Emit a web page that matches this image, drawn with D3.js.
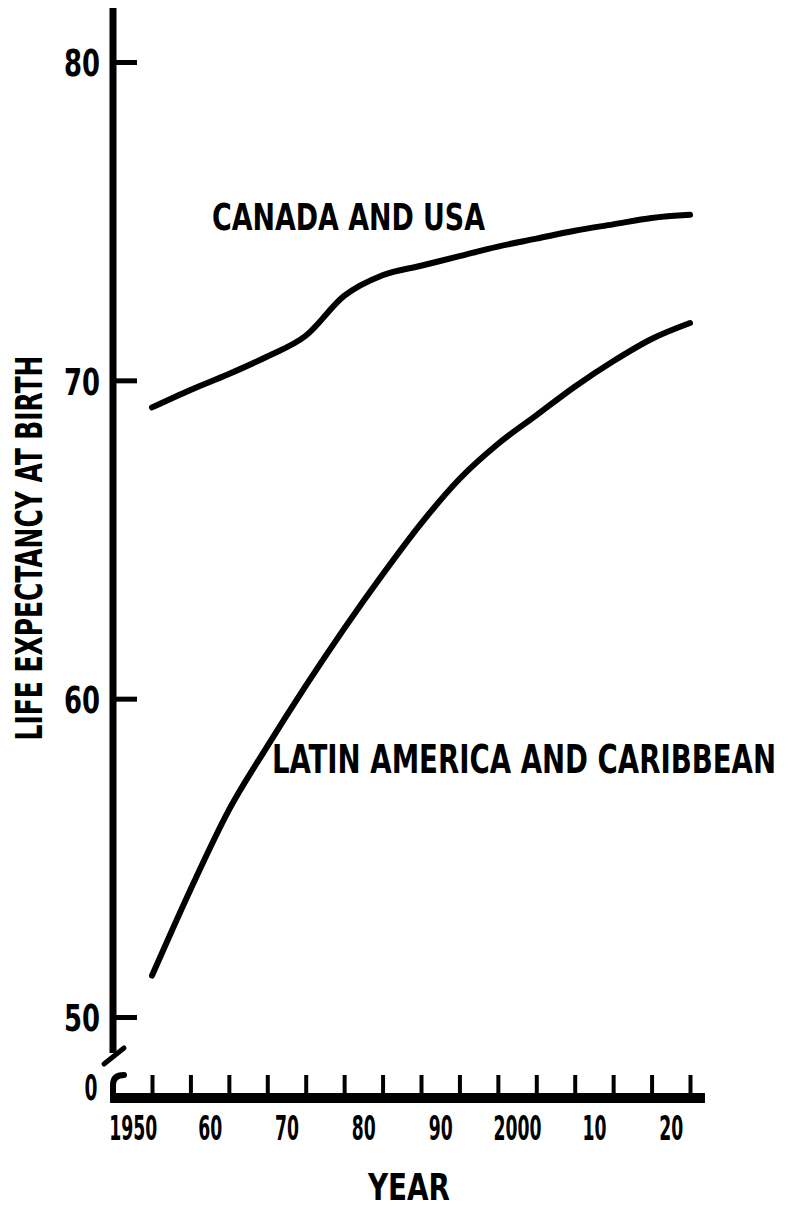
<!DOCTYPE html>
<html>
<head>
<meta charset="utf-8">
<script src="https://cdn.jsdelivr.net/npm/d3@7"></script>
<style>
  body { margin: 0; background: #fff; }
  svg { display: block; }
  text { font-family: "Liberation Sans Narrow", "DejaVu Sans Condensed", sans-serif; font-weight: bold; fill: #000; }
</style>
</head>
<body>
<div id="chart"></div>
<script>
// five-year periods, plotted at their midpoints
const periodYears = [1952.5, 1957.5, 1962.5, 1967.5, 1972.5, 1977.5, 1982.5, 1987.5,
                     1992.5, 1997.5, 2002.5, 2007.5, 2012.5, 2017.5, 2022.5];
const canadaUSA = [69.15, 69.7, 70.2, 70.75, 71.4, 72.65, 73.3, 73.6,
                   73.9, 74.2, 74.45, 74.7, 74.9, 75.1, 75.2];
const latinAmerica = [51.3, 54.0, 56.5, 58.5, 60.4, 62.2, 63.9, 65.5,
                      66.9, 68.0, 68.9, 69.8, 70.6, 71.3, 71.8];
const yTicks = [50, 60, 70, 80];
const xLabelYears = [1950, 1960, 1970, 1980, 1990, 2000, 2010, 2020];
const xLabels = ["1950", "60", "70", "80", "90", "2000", "10", "20"];

const width = 788, height = 1208;

const svg = d3.select("#chart").append("svg")
    .attr("width", width)
    .attr("height", height);

// scales
const x = d3.scaleLinear().domain([1952.5, 2022.5]).range([152, 690]);
const y = d3.scaleLinear().domain([50, 80]).range([1017, 62]);

const axisX = 113, baseY = 1098;

// condensed, tall lettering: stretch vertically around the baseline
function label(txt, px, py, size, len, sy, anchor, rot) {
    return svg.append("text")
        .attr("transform", `translate(${px},${py})` + (rot ? ` rotate(${rot})` : "") + ` scale(1,${sy})`)
        .attr("text-anchor", anchor || "start")
        .attr("font-size", size)
        .attr("textLength", len)
        .attr("lengthAdjust", "spacingAndGlyphs")
        .text(txt);
}

// y axis ticks and labels
const yAxisG = svg.append("g")
    .attr("transform", `translate(${axisX},0)`)
    .call(d3.axisLeft(y).tickValues(yTicks).tickSize(-24).tickPadding(13).tickFormat(d3.format("d")));
yAxisG.select(".domain").remove();
yAxisG.selectAll(".tick line").attr("stroke", "#000").attr("stroke-width", 5);
yAxisG.selectAll(".tick text")
    .attr("font-size", 38)
    .attr("dy", "0.36em")
    .attr("textLength", 36)
    .attr("lengthAdjust", "spacingAndGlyphs");

// y axis line with break
svg.append("line")
    .attr("x1", axisX).attr("x2", axisX)
    .attr("y1", y(81.7)).attr("y2", 1053)
    .attr("stroke", "#000").attr("stroke-width", 7);
svg.append("line")
    .attr("x1", 124).attr("y1", 1048).attr("x2", 104).attr("y2", 1064)
    .attr("stroke", "#000").attr("stroke-width", 5).attr("stroke-linecap", "round");
svg.append("path")
    .attr("d", `M124,1075 Q${axisX},1075 ${axisX},1085 L${axisX},${baseY}`)
    .attr("fill", "none").attr("stroke", "#000").attr("stroke-width", 6)
    .attr("stroke-linecap", "round");
label("0", 91, 1100, 32, 13, 1.1, "middle");

// x axis baseline
svg.append("line")
    .attr("x1", axisX - 3).attr("x2", 705)
    .attr("y1", baseY).attr("y2", baseY)
    .attr("stroke", "#000").attr("stroke-width", 10);

// x ticks (one per five-year period)
const xTickG = svg.append("g")
    .attr("transform", `translate(0,${baseY - 4})`)
    .call(d3.axisBottom(x).tickValues(periodYears).tickSize(-19).tickFormat(""));
xTickG.select(".domain").remove();
xTickG.selectAll(".tick line").attr("stroke", "#000").attr("stroke-width", 4);

// x labels (decades)
const xLabelG = svg.append("g")
    .attr("transform", `translate(0,${baseY})`)
    .call(d3.axisBottom(x).tickValues(xLabelYears).tickSize(0)
        .tickFormat((d, i) => xLabels[i]));
xLabelG.select(".domain").remove();
xLabelG.selectAll(".tick text")
    .attr("y", 0).attr("dy", 0)
    .attr("transform", "translate(0,42) scale(1,1.1)")
    .attr("font-size", 31)
    .attr("textLength", (d, i) => xLabels[i].length * 12)
    .attr("lengthAdjust", "spacingAndGlyphs");

// lines
const line = d3.line()
    .x((d, i) => x(periodYears[i]))
    .y(d => y(d))
    .curve(d3.curveMonotoneX);

[canadaUSA, latinAmerica].forEach(series => {
    svg.append("path")
        .datum(series)
        .attr("d", line)
        .attr("fill", "none")
        .attr("stroke", "#000")
        .attr("stroke-width", 6)
        .attr("stroke-linecap", "round")
        .attr("stroke-linejoin", "round");
});

// series labels
label("CANADA AND USA", 212, 230, 33, 273, 1.15);
label("LATIN AMERICA AND CARIBBEAN", 272, 773, 30, 504, 1.33);

// axis titles
label("LIFE EXPECTANCY AT BIRTH", 42, 548, 34, 385, 1.12, "middle", -90);
label("YEAR", 409, 1200, 33, 82, 1.15, "middle");
</script>
</body>
</html>
